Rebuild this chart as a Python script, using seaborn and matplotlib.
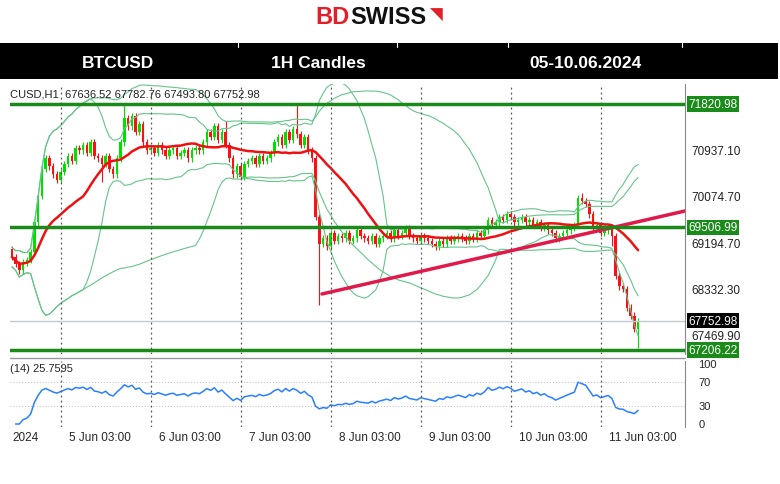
import numpy as np
import pandas as pd
import matplotlib
matplotlib.use('Agg')
import matplotlib.pyplot as plt
import seaborn as sns

sns.set_style('white')
plt.rcParams['font.family'] = ['Liberation Sans', 'DejaVu Sans']

# hourly closes, 4 Jun 14:00 -> 11 Jun 13:00
closes = [
    68950, 68820, 68700, 68850, 68900, 69050,
    69600, 70100, 70600, 70800,
    70650, 70500, 70400, 70550,
    70700, 70850, 70750, 71000, 70950,
    71050, 70900, 71100, 70850, 70800, 70700, 70850, 70600, 70500,
    70800, 71100, 71550, 71400, 71600, 71300, 71450, 71100,
    70950, 71000, 70900, 71050, 70950, 70850, 70950, 71000, 70850, 70900,
    70950, 70800, 70950, 71000, 70950,
    71100, 71300, 71200, 71400, 71150, 71300, 71050, 70800,
    70500, 70650, 70450, 70700,
    70750, 70800, 70700, 70850, 70750, 70800, 70900,
    71100, 71200, 71050, 71300, 71150, 71350, 71250,
    71050, 71200, 70950, 70800,
    69700, 69200,
    69300, 69150, 69400, 69250, 69350, 69300, 69400, 69250, 69300, 69450,
    69350, 69300, 69250, 69350, 69200, 69300, 69350, 69400, 69300, 69450,
    69350, 69400, 69500, 69350, 69300, 69250, 69350, 69300,
    69250, 69200, 69150, 69250, 69200, 69300, 69250, 69300, 69350, 69300,
    69250, 69350, 69300, 69400, 69350, 69450, 69650, 69550,
    69600, 69700, 69650, 69750, 69700, 69600, 69650, 69700, 69600, 69650,
    69550, 69600, 69500, 69550, 69450, 69400,
    69300, 69350, 69400, 69450, 69500, 69550,
    70050, 70000, 69950, 69750, 69500,
    69550, 69400, 69450, 69500, 69350,
    68600, 68400, 68350, 68000, 67850, 67600, 67752.98,
]
first_open = 69100
# wick extremes (hour index: price)
spike_highs = {30: 71800, 76: 71820.98, 152: 70150, 57: 71500}
spike_lows = {82: 68050, 167: 67250, 160: 69150, 24: 70350}

levels = [71820.98, 69506.99, 67206.22]
price_ticks = [70937.10, 70074.70, 69194.70, 68332.30, 67469.90]
last_price = 67752.98
trend_pts = ([82.7, 179.5], [68257, 69814])
day_labels = ['5 Jun 03:00', '6 Jun 03:00', '7 Jun 03:00', '8 Jun 03:00',
              '9 Jun 03:00', '10 Jun 03:00', '11 Jun 03:00']
first_day_tick = 13


def main():
    c = np.array(closes, dtype=float)
    n = len(c)
    h = np.arange(n)
    o = np.concatenate([[first_open], c[:-1]])
    hi = np.maximum(o, c) + 60
    lo = np.minimum(o, c) - 60
    for k, v in spike_highs.items():
        hi[k] = v
    for k, v in spike_lows.items():
        lo[k] = v

    s = pd.Series(c)
    ma = s.rolling(20, min_periods=1).mean()
    sd = s.rolling(20, min_periods=2).std().bfill()
    ma50 = s.rolling(50, min_periods=1).mean()
    sd50 = s.rolling(50, min_periods=2).std().bfill()
    d = pd.Series(np.concatenate([[c[0] - first_open], np.diff(c)]))
    up = d.clip(lower=0).ewm(alpha=1 / 14, adjust=False).mean()
    dn = (-d.clip(upper=0)).ewm(alpha=1 / 14, adjust=False).mean()
    rsi = 100 - 100 / (1 + up / dn.replace(0, 1e-9))

    fig = plt.figure(figsize=(7.8, 4.85), dpi=100)
    W, H = 780, 485

    def box(x0, y0, x1, y1):
        return [x0 / W, 1 - y1 / H, (x1 - x0) / W, (y1 - y0) / H]

    # logo
    lx = 350 / W
    fig.text(lx, 1 - 18 / H, 'BD', color='#e3202a', fontsize=17, fontweight='bold',
             ha='right', va='center')
    fig.text(lx, 1 - 18 / H, 'SWISS', color='#111111', fontsize=17, fontweight='bold',
             ha='left', va='center')
    fig.text(lx + 80 / W, 1 - 15 / H, '\u25e5', color='#e3202a', fontsize=12,
             ha='left', va='center')

    # header bar
    hdr = fig.add_axes(box(0, 44, 778, 80))
    hdr.set_facecolor('black')
    hdr.set_xticks([]); hdr.set_yticks([])
    for sp in hdr.spines.values():
        sp.set_visible(False)
    for xp in [238, 397, 508, 682]:
        hdr.axvline(xp / 778, color='white', lw=0.8, ymin=0.9)
    for xp, t in [(118, 'BTCUSD'), (318, '1H Candles'), (585, '05-10.06.2024')]:
        hdr.text(xp / 778, 0.45, t, color='white', fontsize=12.5, fontweight='bold',
                 ha='center', va='center', transform=hdr.transAxes)

    ax = fig.add_axes(box(10, 85, 685, 355))
    ax.set_xlim(-0.5, 179.5)
    ax.set_ylim(67131, 72196)
    cols = np.where(c >= o, '#00e000', '#ff1010')
    ax.vlines(h, lo, hi, colors=cols, lw=0.8)
    ax.bar(h, np.maximum(np.abs(c - o), 15), bottom=np.minimum(o, c), width=0.7,
           color=cols, edgecolor=cols, lw=0)
    bb = '#66c48a'
    sns.lineplot(x=h, y=(ma + 2 * sd).values, ax=ax, color=bb, lw=0.8)
    sns.lineplot(x=h, y=(ma - 2 * sd).values, ax=ax, color=bb, lw=0.8)
    sns.lineplot(x=h, y=(ma50 + 2 * sd50).values, ax=ax, color=bb, lw=0.8)
    sns.lineplot(x=h, y=(ma50 - 2 * sd50).values, ax=ax, color=bb, lw=0.8)
    sns.lineplot(x=h, y=ma.values, ax=ax, color='#ee1111', lw=1.8)
    ax.plot(trend_pts[0], trend_pts[1], color='#e0194a', lw=2.5)
    for lv in levels:
        ax.axhline(lv, color='#1a8a1a', lw=2.5)
    ax.axhline(last_price, color='#c0c8d0', lw=1)
    ticks = [first_day_tick + 24 * k for k in range(len(day_labels))]
    for t in ticks:
        ax.axvline(t, color='#555555', lw=0.9, ls=(0, (1.5, 2.5)))
    ax.set_xticks([]); ax.set_yticks([])
    for sp in ['top', 'left', 'bottom']:
        ax.spines[sp].set_visible(False)
    ax.spines['right'].set_color('#888888')
    ax.text(0.0, 0.965, 'CUSD,H1  67636.52 67782.76 67493.80 67752.98', fontsize=8,
            transform=ax.transAxes, va='center', color='#222222')
    tr = ax.get_yaxis_transform()
    for p in price_ticks:
        ax.text(1.01, p, f'{p:.2f}', transform=tr, fontsize=8.5, va='center', color='#222222')
    for lv in levels:
        ax.text(1.005, lv, f'{lv:.2f}', transform=tr, fontsize=8.5, va='center',
                color='white', bbox=dict(fc='#1a8a1a', ec='none', pad=1.2))
    ax.text(1.005, last_price, f'{last_price:.2f}', transform=tr, fontsize=8.5,
            va='center', color='white', bbox=dict(fc='black', ec='none', pad=1.2))

    rx = fig.add_axes(box(10, 362, 685, 428))
    rx.set_xlim(-0.5, 179.5)
    rx.set_ylim(-5, 105)
    sns.lineplot(x=h[1:], y=rsi.values[1:], ax=rx, color='#2a7fff', lw=1.1)
    for lv in [70, 30]:
        rx.axhline(lv, color='#bbbbbb', lw=0.7, ls=(0, (1, 2)))
    for t in ticks:
        rx.axvline(t, color='#555555', lw=0.9, ls=(0, (1.5, 2.5)))
    rx.set_xticks([]); rx.set_yticks([])
    for sp in ['top', 'left', 'bottom']:
        rx.spines[sp].set_visible(False)
    rx.spines['right'].set_color('#888888')
    fig.add_artist(plt.Line2D([10 / W, 685 / W], [1 - 359 / H] * 2, color='#999999', lw=1))
    rx.text(0.0, 0.9, '(14) 25.7595', fontsize=8, transform=rx.transAxes, va='center')
    rt = rx.get_yaxis_transform()
    for lv in [100, 70, 30, 0]:
        rx.text(1.02, lv, str(lv), transform=rt, fontsize=8, va='center')

    # x labels
    fig.text(12 / W, 1 - 438 / H, '2024', fontsize=8.5, va='center')
    for t, lab in zip(ticks, day_labels):
        xp = 10 + (t + 0.5) / 180 * 675
        fig.text((xp + 8) / W, 1 - 438 / H, lab, fontsize=8.5, va='center')

    fig.savefig('out.png', dpi=100)


if __name__ == '__main__':
    main()
